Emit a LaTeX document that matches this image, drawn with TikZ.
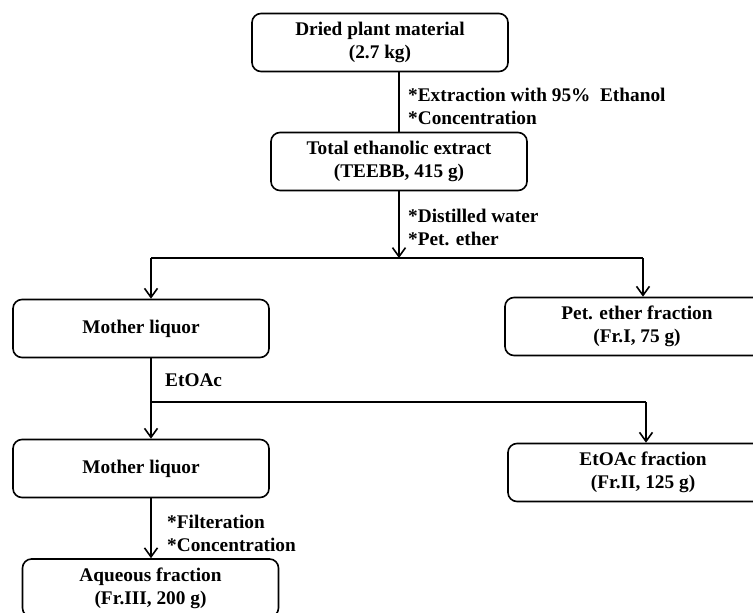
\documentclass[tikz,border=0pt]{standalone}
\usepackage{fontspec}
\setmainfont{Liberation Serif}
\usetikzlibrary{arrows.meta}

\begin{document}
\begin{tikzpicture}[x=1pt,y=-1pt]
		% Define box and arrow styles
		\tikzset{stepbox/.style={draw, line width=1.6pt, rounded corners=9pt, minimum width=256pt, minimum height=58pt, align=center, font=\bfseries\fontsize{19.3}{23}\selectfont},
			note/.style={anchor=west, inner sep=0pt, align=left, font=\bfseries\fontsize{19.3}{23}\selectfont},
			flow/.style={line width=1.6pt},
			->-/.style={flow, -{Straight Barb[length=9pt,width=13pt,line width=1.6pt]}}}
		
		% Fix the page size
		\useasboundingbox (0,0) rectangle (753,613);
		
		% Draw the boxes
		\node[stepbox] (dried) at (380,42.5) {Dried plant material\\(2.7 kg)};
		\node[stepbox] (total) at (399,161.5) {Total ethanolic extract\\(TEEBB, 415 g)};
		\node[stepbox] (mother1) at (141,328.5) {Mother liquor};
		\node[stepbox, minimum width=264pt] (pet) at (637,326.5) {Pet. ether fraction\\(Fr.I, 75 g)};
		\node[stepbox] (mother2) at (141,468.5) {Mother liquor};
		\node[stepbox, minimum width=270pt] (etoac) at (643,472.5) {EtOAc fraction\\(Fr.II, 125 g)};
		\node[stepbox] (aqueous) at (150.5,588) {Aqueous fraction\\(Fr.III, 200 g)};
		
		% Split points
		\coordinate (l1) at (151,258);
		\coordinate (r1) at (643,258);
		\coordinate (l2) at (151,402);
		\coordinate (r2) at (646,402);
		
		% Draw the connectors
		\draw[flow] (total.north |- dried.south) -- (total.north);
		\draw[->-] (total.south) -- (total.south |- l1);
		\draw[flow] (l1) -- (r1);
		\draw[->-] (l1) -- (l1 |- mother1.north);
		\draw[->-] (r1) -- (r1 |- pet.north);
		\draw[flow] (l1 |- mother1.south) -- (l2) -- (r2);
		\draw[->-] (l2) -- (l2 |- mother2.north);
		\draw[->-] (r2) -- (r2 |- etoac.north);
		\draw[->-] (l2 |- mother2.south) -- (l2 |- aqueous.north);
		
		% Add labels
		\node[note] (ext) at (408,106.5) {*Extraction with 95\%\ \ Ethanol\\*Concentration};
		\node[note] (dist) at (408,227.5) {*Distilled water\\*Pet. ether};
		\node[note] (solv) at (165,380) {EtOAc};
		\node[note] (filt) at (167,533.5) {*Filteration\\*Concentration};
	\end{tikzpicture}
\end{document}
